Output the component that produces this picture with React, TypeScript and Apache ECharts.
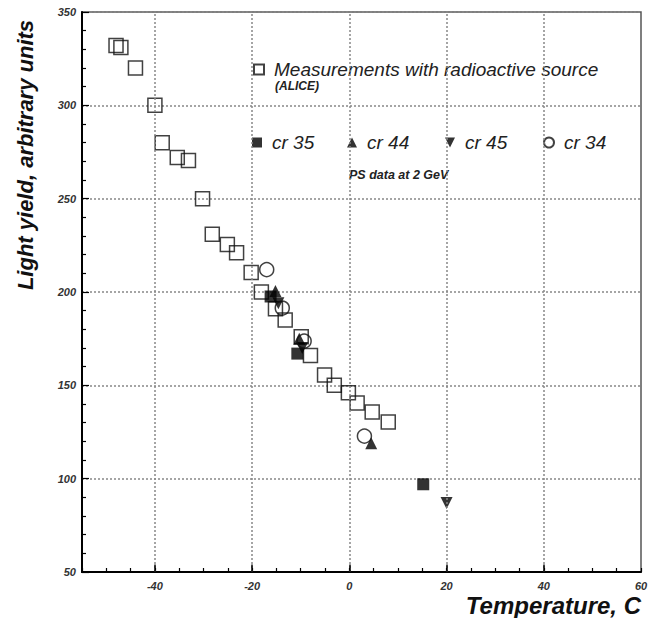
import React, { useEffect, useRef } from "react";
import * as echarts from "echarts";

const aliceData: number[][] = [
  [-48, 332], [-47, 331], [-44, 320], [-40, 300], [-38.5, 280], [-35.4, 272],
  [-33.1, 270.5], [-30.2, 250], [-28.2, 231], [-25.1, 225.5], [-23.2, 221],
  [-20.2, 210.5], [-18.1, 200], [-15.2, 191], [-13.2, 185], [-9.9, 176],
  [-8, 166], [-5.1, 155.5], [-3.1, 150], [-0.2, 146], [1.6, 140.5],
  [4.7, 135.7], [8, 130.3],
];
const cr35Data: number[][] = [[-16.2, 197.6], [-10.7, 167], [15.2, 97]];
const cr44Data: number[][] = [[-15.2, 200.5], [-10.3, 175], [4.5, 119]];
const cr45Data: number[][] = [[-14.6, 194], [-9.7, 170], [20, 87]];
const cr34Data: number[][] = [[-17, 212], [-13.8, 191.4], [-9.3, 173.7], [3.1, 122.8]];

const xGridValues = [-40, -20, 0, 20, 40];
const xMajorTicks = [-40, -20, 0, 20, 40];
const xLabelStep = 20;
const yLabels = [50, 100, 150, 200, 250, 300, 350];

const seriesNames = {
  alice: "Measurements with radioactive source",
  cr35: "cr 35",
  cr44: "cr 44",
  cr45: "cr 45",
  cr34: "cr 34",
};

const FONT = "'Liberation Sans', Arial, sans-serif";
const DOWN_TRI = "path://M0,0L10,0L5,10Z";

export default function App() {
  const ref = useRef<HTMLDivElement>(null);
  useEffect(() => {
    if (!ref.current) return;
    const chart = echarts.init(ref.current, null, { renderer: "svg" });
    const legendText = {
      fontFamily: FONT,
      fontStyle: "italic" as const,
      fontSize: 19,
      color: "#222",
      padding: [0, 0, 0, 5],
    };
    const mkLegend = (name: string, left: number, top: number) => ({
      show: true,
      data: [name],
      left,
      top,
      orient: "horizontal" as const,
      itemWidth: 10,
      itemHeight: 10,
      textStyle: legendText,
      selectedMode: false,
    });
    const markLineData: any[] = xGridValues.map((v) => ({ xAxis: v }));
    const tickData: any[] = xMajorTicks.map((v) => [
      { coord: [v, 50] },
      { coord: [v, 54] },
    ]);
    chart.setOption({
      animation: false,
      backgroundColor: "#fff",
      grid: {
        left: 82,
        right: 10,
        top: 12,
        bottom: 46,
        show: true,
        borderColor: "#555",
        borderWidth: 1.5,
        backgroundColor: "transparent",
      },
      xAxis: {
        type: "value",
        min: -55,
        max: 60,
        interval: 5,
        axisLine: { show: true, onZero: false, lineStyle: { color: "#000", width: 2 } },
        axisTick: { show: true, inside: true, length: 4, lineStyle: { color: "#000", width: 1.2 } },
        splitLine: { show: false },
        axisLabel: {
          margin: 8,
          fontFamily: FONT,
          fontStyle: "italic",
          fontWeight: "bold",
          fontSize: 11,
          color: "#333",
          formatter: (v: number) => (v % xLabelStep === 0 ? String(v) : ""),
        },
      },
      yAxis: {
        type: "value",
        min: yLabels[0],
        max: yLabels[yLabels.length - 1],
        interval: 50,
        axisLine: { show: true, onZero: false, lineStyle: { color: "#000", width: 2 } },
        axisTick: { show: true, inside: true, length: 7, lineStyle: { color: "#000", width: 1.2 } },
        minorTick: { show: true, splitNumber: 5, length: 4, lineStyle: { color: "#000", width: 1.2 } },
        splitLine: { show: true, lineStyle: { color: "#888", type: [2, 2], width: 1.5 } },
        axisLabel: {
          margin: 6,
          fontFamily: FONT,
          fontStyle: "italic",
          fontWeight: "bold",
          fontSize: 11,
          color: "#333",
        },
      },
      legend: [
        mkLegend(seriesNames.alice, 248, 55),
        mkLegend(seriesNames.cr35, 247, 128),
        mkLegend(seriesNames.cr44, 342, 128),
        { ...mkLegend(seriesNames.cr45, 440, 128), data: [{ name: seriesNames.cr45, icon: DOWN_TRI }] },
        mkLegend(seriesNames.cr34, 538, 128),
      ],
      graphic: [
        {
          type: "text",
          x: 275,
          y: 86,
          style: {
            text: "(ALICE)",
            font: `italic bold 12px ${FONT}`,
            fill: "#222",
            textAlign: "left",
            textVerticalAlign: "middle",
          },
        },
        {
          type: "text",
          x: 349,
          y: 175,
          style: {
            text: "PS data at 2 GeV",
            font: `italic bold 12.5px ${FONT}`,
            fill: "#222",
            textAlign: "left",
            textVerticalAlign: "middle",
          },
        },
        {
          type: "text",
          x: 25,
          y: 155,
          rotation: Math.PI / 2,
          style: {
            text: "Light yield, arbitrary units",
            font: `italic bold 22px ${FONT}`,
            fill: "#111",
            textAlign: "center",
            textVerticalAlign: "middle",
          },
        },
        {
          type: "text",
          x: 641,
          y: 605,
          style: {
            text: "Temperature, C",
            font: `italic bold 24px ${FONT}`,
            fill: "#111",
            textAlign: "right",
            textVerticalAlign: "middle",
          },
        },
      ],
      series: [
        {
          name: "grid-x",
          type: "scatter",
          data: [],
          silent: true,
          markLine: {
            silent: true,
            symbol: ["none", "none"],
            label: { show: false },
            lineStyle: { color: "#888", type: [2, 2], width: 1.5 },
            data: markLineData,
          },
        },
        {
          name: "ticks-x",
          type: "scatter",
          data: [],
          silent: true,
          markLine: {
            silent: true,
            symbol: ["none", "none"],
            label: { show: false },
            lineStyle: { color: "#000", type: "solid", width: 1.5 },
            data: tickData,
          },
        },
        {
          name: seriesNames.alice,
          type: "scatter",
          data: aliceData,
          symbol: "rect",
          symbolSize: 14,
          itemStyle: { color: "rgba(255,255,255,0)", borderColor: "#111", borderWidth: 1.5 },
        },
        {
          name: seriesNames.cr35,
          type: "scatter",
          data: cr35Data,
          symbol: "rect",
          symbolSize: 12,
          itemStyle: { color: "#000" },
        },
        {
          name: seriesNames.cr44,
          type: "scatter",
          data: cr44Data,
          symbol: "triangle",
          symbolSize: 12,
          itemStyle: { color: "#000" },
        },
        {
          name: seriesNames.cr45,
          type: "scatter",
          data: cr45Data,
          symbol: DOWN_TRI,
          symbolSize: 12,
          itemStyle: { color: "#000" },
        },
        {
          name: seriesNames.cr34,
          type: "scatter",
          data: cr34Data,
          symbol: "circle",
          symbolSize: 14,
          itemStyle: { color: "rgba(255,255,255,0)", borderColor: "#111", borderWidth: 1.5 },
        },
      ],
    });
    return () => chart.dispose();
  }, []);
  return (
    <div
      ref={ref}
      style={{ position: "absolute", left: 0, top: 0, width: 651, height: 618 }}
    />
  );
}
